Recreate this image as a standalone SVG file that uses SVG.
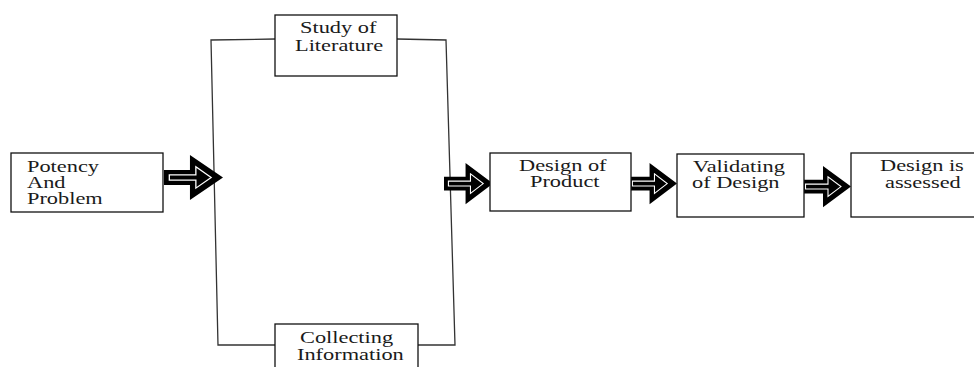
<svg xmlns="http://www.w3.org/2000/svg" width="974" height="367" viewBox="0 0 974 367">
<style>
.box{fill:#fff;stroke:#111;stroke-width:1.3}
.ln{fill:none;stroke:#333;stroke-width:1.3}
.t{font-family:"Liberation Serif","Times New Roman",serif;font-size:16.2px;fill:#1a1a1a}
</style>
<defs>
<g id="arr">
<path d="M0,14 H22 V0 L50,21 L22,42 V28 H0 Z" fill="#000"/>
<path d="M4.5,18.5 H27 V11 L40,21 L27,31 V23.5 H4.5 Z" fill="none" stroke="#fff" stroke-width="1.1"/>
</g>
</defs>
<rect width="974" height="367" fill="#fff"/>
<g id="connectors">
<polyline class="ln" points="275,39 211,40 218,345 275,345"/>
<polyline class="ln" points="397,39 446,40 455,345 418,345"/>
<use href="#arr" transform="translate(164,155) scale(1.18,1.07)"/>
<use href="#arr" transform="translate(444,163) scale(0.98,0.98)"/>
<use href="#arr" transform="translate(628,163) scale(0.98,0.98)"/>
<use href="#arr" transform="translate(801,166) scale(1.0,0.98)"/>
</g>
<g id="potency">
<rect class="box" x="11" y="153" width="152" height="59"/>
<text class="t" transform="translate(27,172) scale(1.38,1)">Potency</text>
<text class="t" transform="translate(27,188) scale(1.38,1)">And</text>
<text class="t" transform="translate(27,204) scale(1.38,1)">Problem</text>
</g>
<g id="literature">
<rect class="box" x="275" y="15" width="122" height="61"/>
<text class="t" transform="translate(300,33) scale(1.38,1)">Study of</text>
<text class="t" transform="translate(295,51) scale(1.38,1)">Literature</text>
</g>
<g id="collecting">
<rect class="box" x="275" y="324" width="143" height="60"/>
<text class="t" transform="translate(300,343) scale(1.38,1)">Collecting</text>
<text class="t" transform="translate(297,360) scale(1.38,1)">Information</text>
</g>
<g id="design">
<rect class="box" x="490" y="153" width="141" height="58"/>
<text class="t" transform="translate(519,171) scale(1.38,1)">Design of</text>
<text class="t" transform="translate(530,187) scale(1.38,1)">Product</text>
</g>
<g id="validating">
<rect class="box" x="677" y="154" width="127" height="63"/>
<text class="t" transform="translate(693,172) scale(1.38,1)">Validating</text>
<text class="t" transform="translate(692,188) scale(1.38,1)">of Design</text>
</g>
<g id="assessed">
<rect class="box" x="851" y="153" width="140" height="64"/>
<text class="t" transform="translate(880,171) scale(1.38,1)">Design is</text>
<text class="t" transform="translate(885,188) scale(1.38,1)">assessed</text>
</g>
</svg>
